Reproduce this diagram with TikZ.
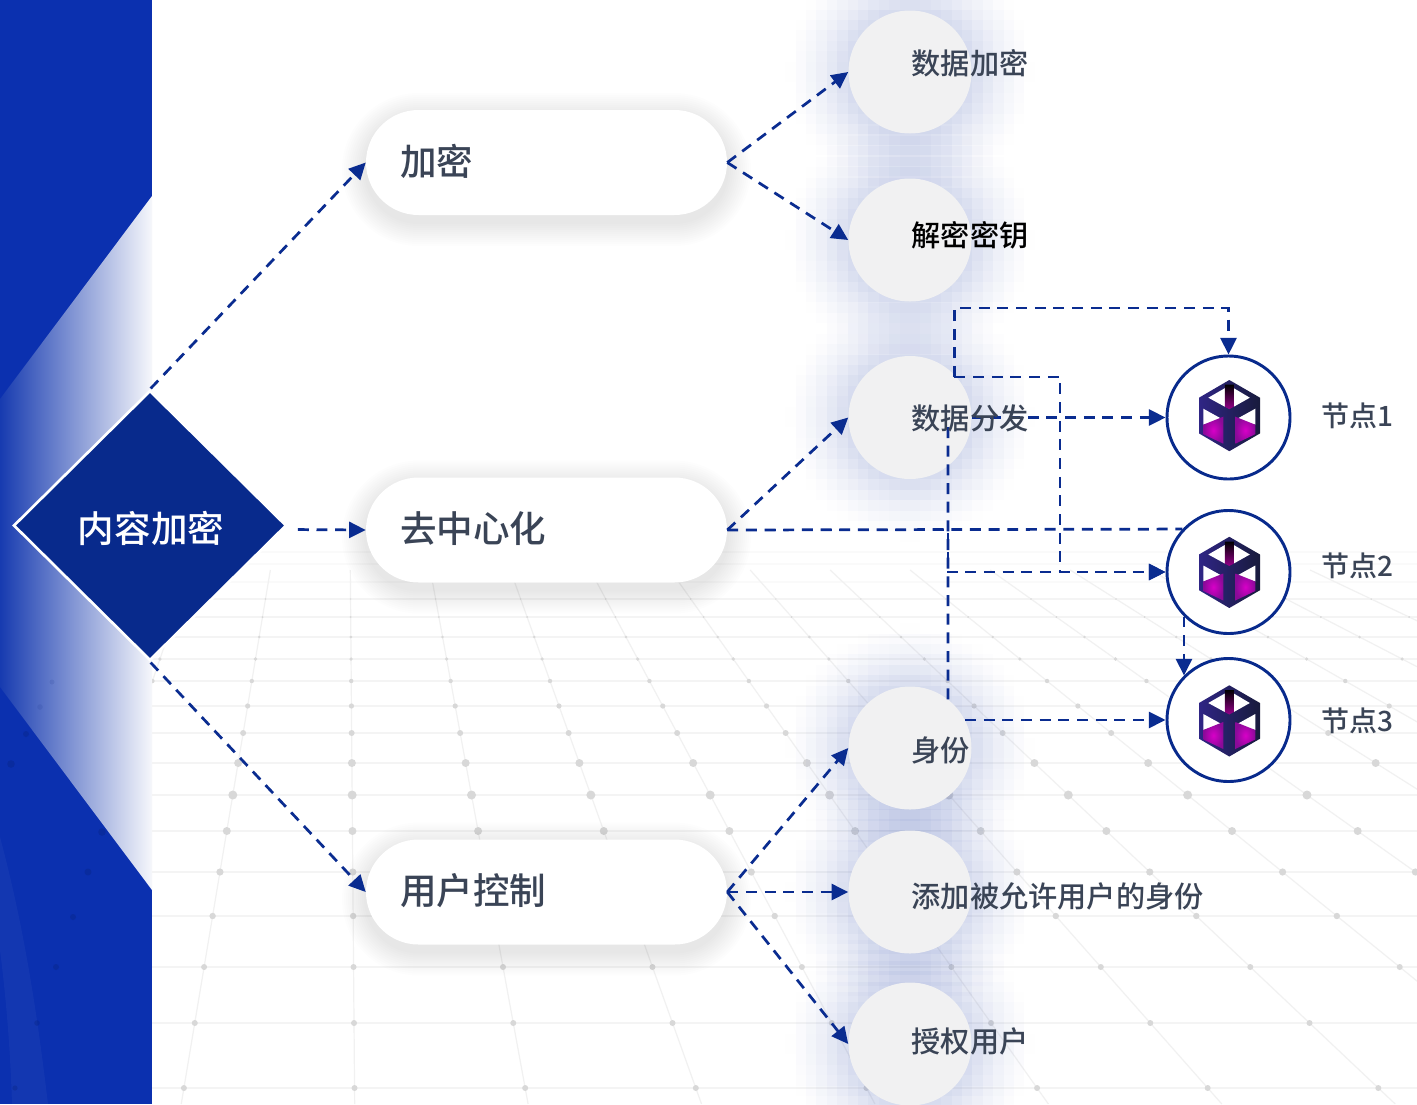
\documentclass[tikz,border=0pt]{standalone}
\usepackage{fontspec}
\setmainfont[BoldFont={Noto Sans CJK SC Medium}]{Noto Sans CJK SC}
\usetikzlibrary{arrows.meta,shapes.geometric}
\definecolor{bandblue}{HTML}{0B30AF}
\definecolor{chevleft}{HTML}{173BB0}
\definecolor{chevmid}{HTML}{7388C2}
\definecolor{chevright}{HTML}{F6F7FB}
\definecolor{navy}{HTML}{082A8C}
\definecolor{deepnavy}{HTML}{06207A}
\definecolor{linkblue}{HTML}{0A2C90}
\definecolor{txt}{HTML}{3A4456}
\definecolor{gridl}{HTML}{F4F4F4}
\definecolor{gridv}{HTML}{F1F1F1}
\definecolor{gridf}{HTML}{FAFAFA}
\definecolor{gridd}{HTML}{D8D8D8}
\definecolor{circfill}{HTML}{F1F1F2}
\definecolor{glow}{HTML}{1030A0}
\definecolor{cubeL}{HTML}{2F2585}
\definecolor{cubeR}{HTML}{181B3C}
\definecolor{cubeM}{HTML}{D800C8}
\definecolor{cubeO}{HTML}{8A0A98}
\newcommand\pxu{0.75pt}
\newcommand\glowat[2]{%
  \foreach \i in {-12,...,11}{\foreach \j in {-12,...,11}{%
    \pgfmathsetmacro\dd{sqrt((\i+.5)*(\i+.5)+(\j+.5)*(\j+.5))*10.4}%
    \pgfmathsetmacro\tt{max(0,min(1,(125-\dd)/63))}%
    \pgfmathsetmacro\aa{0.17*\tt*sqrt(\tt)}%
    \pgfmathparse{\aa>0.004?1:0}%
    \ifnum\pgfmathresult=1
      \fill[glow,opacity=\aa] (#1+\i*10.4,#2+\j*10.4) rectangle ++(10.4,10.4);%
    \fi
  }}}
\newcommand\pillshadow[1]{%
  \foreach \e in {2,4,...,24}{%
    \pgfmathsetmacro\rr{(52.5+\e)*.75}%
    \fill[black,opacity=.0065,rounded corners=\rr pt] (366-\e,#1-52.5-\e+7) rectangle (727+\e,#1+52.5+\e+7);%
  }}
\newcommand\uptxt[1]{\raisebox{0pt}[\height][\dimexpr\depth+2.2pt\relax]{#1}}
\tikzset{
  link/.style={draw=linkblue,line width=2.05pt,dash pattern=on 8.2pt off 5.8pt},
  linkarrow/.style={link,-{Triangle[length=12.5pt,width=12pt,sep=0pt]}},
  pillbox/.style={rectangle,fill=white,rounded corners=52.5*\pxu,minimum height=105*\pxu,
    text width=293*\pxu,inner xsep=34*\pxu,inner ysep=0pt,align=left,
    font=\fontsize{27.4pt}{30pt}\selectfont\bfseries,text=txt},
  glowcirc/.style={circle,fill=circfill,minimum size=123*\pxu,inner sep=0pt},
  ring/.style={circle,fill=white,draw=navy,line width=2.2pt,minimum size=123*\pxu,inner sep=0pt},
  lab/.style={anchor=west,inner sep=0pt,font=\fontsize{21.9pt}{24pt}\selectfont\bfseries,text=txt},
  nlab/.style={anchor=west,inner sep=0pt,font=\fontsize{21pt}{24pt}\selectfont\bfseries,text=txt},
  cubeicon/.pic={
    \shade[left color=cubeL,right color=cubeR] (0,-35.7)--(30.7,-18)--(30.7,17.7)--(0,35.5)--(-30.3,17.7)--(-30.3,-18)--cycle;
    \fill[white] (-21,-18)--(-4.5,-27.5)--(-4.5,-9)--cycle;
    \fill[white] (4.5,-27.5)--(20.5,-18)--(4.5,-9)--cycle;
    \shade[top color=black,bottom color=cubeM!70!black] (-4.5,-31)--(4.5,-31)--(4.5,-9)--(0,-6.5)--(-4.5,-9)--cycle;
    \fill[white] (-26,-7)--(-7,3.5)--(-26,9)--cycle;
    \fill[white] (26,-7)--(7,3.5)--(26,9)--cycle;
    \shade[inner color=cubeM,outer color=cubeO] (-26,9)--(-6,1)--(-6,28)--(-26,18.5)--cycle;
    \shade[inner color=cubeM,outer color=cubeO] (26,9)--(6,1)--(6,28)--(26,18.5)--cycle;
  }
}
\begin{document}
\begin{tikzpicture}[x=\pxu,y=-\pxu]
\useasboundingbox (0,0) rectangle (1417,1104);
\fill[white] (0,0) rectangle (1417,1104);
% perspective floor
\begin{scope}
\clip (152,0) rectangle (1417,1104);
\foreach \ry in {552,564,582}{\draw[gridf,line width=1pt] (152,\ry)--(1417,\ry);}
\foreach \ry in {599,617,637,659,681,706,733,763,795,831,872,916,967,1023,1088}{\draw[gridl,line width=1.2pt] (152,\ry)--(1417,\ry);}
\foreach \k in {-2,...,12}{
  \pgfmathsetmacro\xa{346.6+0.00815*(570-113)+\k*0.175*(570-113)}
  \pgfmathsetmacro\xb{346.6+0.00815*(1104-113)+\k*0.175*(1104-113)}
  \draw[gridv,line width=.9pt] (\xa,570)--(\xb,1104);
}
\foreach \ry/\rr in {599/.8,617/1,637/1.4,659/1.8,681/2.2,706/2.6,733/3,763/4,795/4.5,831/4,872/3.6,916/3.2,967/3,1023/3,1088/3}{
  \foreach \k in {-2,...,12}{
    \pgfmathsetmacro\xx{346.6+0.00815*(\ry-113)+\k*0.175*(\ry-113)}
    \fill[gridd] (\xx,\ry) circle (\rr);
  }
}
\end{scope}
% left band
\fill[bandblue] (0,0) rectangle (152,1104);
\shade[left color=chevleft,middle color=chevmid,right color=chevright] (152,196)--(0,399)--(0,687)--(152,890)--cycle;
\begin{scope}
\clip (0,0) rectangle (152,1104);
\fill[white,opacity=.035] (0,837) .. controls (25,930) and (38,1020) .. (48,1104) -- (12,1104) .. controls (10,1040) and (5,990) .. (0,950) -- cycle;
\foreach \xx/\ry/\rr in {26/734/3,11/764/3.8,102/832/3.8,88/872/3.5,73/917/3,56/967/3,37/1023/2.8,15/1088/2.6}{
  \fill[deepnavy,opacity=.3] (\xx,\ry) circle (\rr);
}
\foreach \xx/\ry/\rr in {52/682/2.5,40/707/2.8}{
  \fill[deepnavy,opacity=.1] (\xx,\ry) circle (\rr);
}
\end{scope}
% shadows
\glowat{910}{72}\glowat{910}{240}\glowat{910}{417}\glowat{910}{748}\glowat{910}{892}\glowat{910}{1044}
\pillshadow{162.5}\pillshadow{530}\pillshadow{892}
% nodes
\node[diamond,fill=navy,draw=white,line width=2pt,minimum width=273*\pxu,minimum height=270*\pxu,inner sep=0pt] (root) at (150,525.5) {};
\node[pillbox] (p1) at (546.5,162.5) {\uptxt{加密}};
\node[pillbox] (p2) at (546.5,530) {\uptxt{去中心化}};
\node[pillbox] (p3) at (546.5,892) {\uptxt{用户控制}};
\node[glowcirc] (c1) at (910,72) {};
\node[glowcirc] (c2) at (910,240) {};
\node[glowcirc] (c3) at (910,417.5) {};
\node[glowcirc] (c4) at (910,748) {};
\node[glowcirc] (c5) at (910,892) {};
\node[glowcirc] (c6) at (910,1044) {};
\node[ring] (n1) at (1228.5,417.5) {};
\node[ring] (n2) at (1228.5,572) {};
\node[ring] (n3) at (1228.5,720) {};
\pic at (1229.3,415.7) {cubeicon};
\pic at (1229.3,572.5) {cubeicon};
\pic at (1229.3,721) {cubeicon};
% bends
\coordinate (bA) at (954,308);
\coordinate (bB) at (1228.5,308);
\coordinate (bC) at (1060,377);
\coordinate (bD) at (1060,572);
\coordinate (bE) at (948,530);
\coordinate (bF) at (948,572);
\coordinate (bG) at (948,425);
% connectors
\draw[linkarrow,shorten <=1*\pxu] (root.north) -- (p1.west);
\draw[linkarrow,shorten <=10*\pxu] (root.east) ++(0,4) -- (p2.west);
\draw[linkarrow,shorten <=1*\pxu] (root.south) -- (p3.west);
\draw[linkarrow] (p1.east) -- (c1.west);
\draw[linkarrow] (p1.east) -- (c2.west);
\draw[linkarrow] (p2.east) -- (c3.west);
\draw[linkarrow] (p3.east) -- (c4.west);
\draw[linkarrow] (p3.east) -- (c5.west);
\draw[linkarrow] (p3.east) -- (c6.west);
\draw[linkarrow] (c3.44 |- bC) -- (c3.44 |- bA) -- (bB) -- (n1.north);
\draw[linkarrow] (c3.44 |- bC) -- (bC) -- (bD) -- (n2.west);
\draw[linkarrow] (c3.east) -- (n1.west);
\draw[link] (p2.east) -- (n2.137);
\draw[linkarrow] (p2.east) -- (bE) -- (bF) -- (n2.west);
\draw[link] (c4.52) -- (bG);
\draw[linkarrow] (c4.27) -- (n3.west |- c4.27);
\draw[linkarrow] (n2.225) -- (n3.135);
% labels
\node[inner sep=0pt,font=\fontsize{27.4pt}{30pt}\selectfont\bfseries,text=white] (troot) at (151,528) {内容加密};
\node[lab] (t1) at (911.5,63) {数据加密};
\node[lab,text=black] (t2) at (911.5,235) {解密密钥};
\node[lab] (t3) at (911.5,418) {数据分发};
\node[lab] (t4) at (911.5,750) {身份};
\node[lab] (t5) at (911.5,896) {添加被允许用户的身份};
\node[lab] (t6) at (911.5,1041) {授权用户};
\node[nlab] (l1) at (1321,416) {节点1};
\node[nlab] (l2) at (1321,566) {节点2};
\node[nlab] (l3) at (1321,721) {节点3};
\end{tikzpicture}
\end{document}
